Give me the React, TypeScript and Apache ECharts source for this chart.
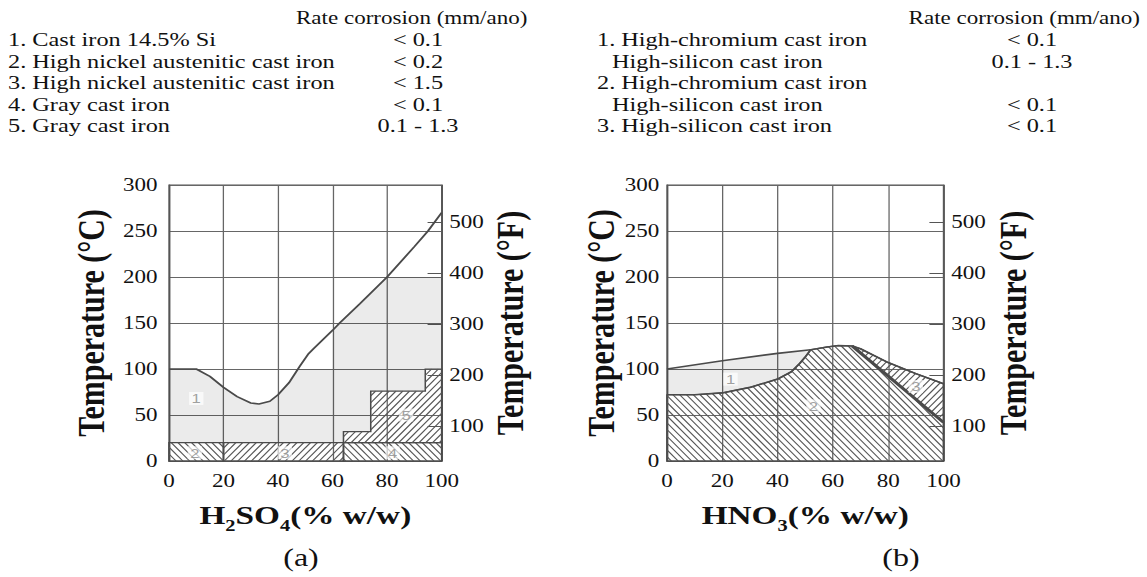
import { useEffect, useRef } from "react";
import * as echarts from "echarts";

// ---------- data ----------
const fahrenheitTicks = [100, 200, 300, 400, 500];

const rateHeader = "Rate corrosion (mm/ano)";
const alloysA = [
  "1. Cast iron 14.5% Si",
  "2. High nickel austenitic cast iron",
  "3. High nickel austenitic cast iron",
  "4. Gray cast iron",
  "5. Gray cast iron",
];
const ratesA = ["< 0.1", "< 0.2", "< 1.5", "< 0.1", "0.1 - 1.3"];
const alloysB = [
  "1. High-chromium cast iron",
  "High-silicon cast iron",
  "2. High-chromium cast iron",
  "High-silicon cast iron",
  "3. High-silicon cast iron",
];
const ratesB = ["< 0.1", "0.1 - 1.3", "", "< 0.1", "< 0.1"];

// (a) H2SO4 — boundary curve (x = % w/w, y = °C)
const aCurve = [
  [0, 100], [10, 100], [15, 92], [20, 80], [25, 70], [30, 63], [33, 62], [37, 65],
  [40, 72], [44, 85], [48, 103], [51, 116], [53, 122], [60, 142], [62.6, 150],
  [70, 171], [80, 200], [90, 233], [95, 250], [100, 270],
];
const aRegion1 = [
  [0, 20], [0, 100], [10, 100], [15, 92], [20, 80], [25, 70], [30, 63], [33, 62],
  [37, 65], [40, 72], [44, 85], [47.5, 100], [60, 100], [60, 142], [62.6, 150],
  [70, 171], [80, 200], [100, 200], [100, 100], [94, 100], [94, 76], [74, 76],
  [74, 32], [64, 32], [64, 20],
];
const aRegion2 = [[0, 0], [0, 20], [20, 20], [20, 0]];
const aRegion3 = [[20, 0], [20, 20], [64, 20], [64, 0]];
const aRegion4 = [[64, 0], [64, 20], [100, 20], [100, 0]];
const aRegion5 = [[64, 20], [64, 32], [74, 32], [74, 76], [94, 76], [94, 100], [100, 100], [100, 20]];
const aLabels = [[10, 68, "1"], [9.5, 9, "2"], [42.5, 9, "3"], [82, 9, "4"], [87, 50, "5"]];

// (b) HNO3
const bRegion1Top = [[0, 100], [20, 109], [40, 117], [52, 121]];
const bRegion1Bottom = [[0, 72], [10, 72], [20, 74], [30, 80], [40, 89], [45, 97], [48, 106], [50, 113], [52, 121]];
const bPeak = [[52, 121], [58, 124], [62, 125.5], [67, 125]];
const bRegion3Top = [[67, 125], [70, 122], [80, 107], [90, 95], [100, 84]];
const bRegion3Bottom = [[67, 125], [100, 42]];
const bLabels = [[23, 89, "1"], [53, 60, "2"], [90, 81, "3"]];

// ---------- layout ----------
const PAGE_W = 1147;
const PAGE_H = 577;
const W = 896;
const S = PAGE_W / W; // horizontal stretch of the whole figure
const serif = "'Liberation Serif', 'Times New Roman', serif";

const bRegion1 = [...bRegion1Bottom, ...bRegion1Top.slice(0, -1).reverse()];
const bRegion2 = [[0, 0], ...bRegion1Bottom, ...bPeak.slice(1), ...bRegion3Bottom.slice(1), [100, 0]];
const bRegion3 = [...bRegion3Top, ...bRegion3Bottom.slice(1).reverse()];

type Region = { pts: number[][]; fill?: string; hatch: number };
const regionsA: Region[] = [
  { pts: aRegion1, fill: "rgba(0,0,0,0.08)", hatch: 0 },
  { pts: aRegion2, hatch: 1 },
  { pts: aRegion3, hatch: -1 },
  { pts: aRegion4, hatch: 1 },
  { pts: aRegion5, hatch: -1 },
];
const regionsB: Region[] = [
  { pts: bRegion1, fill: "rgba(0,0,0,0.08)", hatch: 0 },
  { pts: bRegion2, hatch: 1 },
  { pts: bRegion3, hatch: -1 },
];

function hatchSegments(pts: number[][], dir: number, gap: number) {
  const nx = S, ny = -dir;
  const ux = 1, uy = dir * S;
  const vals = pts.map((p) => nx * p[0] + ny * p[1]);
  const cmin = Math.min(...vals), cmax = Math.max(...vals);
  const step = S * gap;
  const segs: number[][][] = [];
  for (let c = Math.ceil(cmin / step) * step; c <= cmax; c += step) {
    const hits: number[][] = [];
    for (let i = 0; i < pts.length; i++) {
      const a = pts[i], b = pts[(i + 1) % pts.length];
      const fa = nx * a[0] + ny * a[1] - c;
      const fb = nx * b[0] + ny * b[1] - c;
      if (fa > 0 !== fb > 0) {
        const t = fa / (fa - fb);
        hits.push([a[0] + t * (b[0] - a[0]), a[1] + t * (b[1] - a[1])]);
      }
    }
    hits.sort((p, q) => p[0] * ux + p[1] * uy - (q[0] * ux + q[1] * uy));
    for (let k = 0; k + 1 < hits.length; k += 2) segs.push([hits[k], hits[k + 1]]);
  }
  return segs;
}

function regionSeries(regions: Region[], xi: number, yi: number) {
  return {
    type: "custom",
    xAxisIndex: xi,
    yAxisIndex: yi,
    silent: true,
    z: 1,
    data: regions.map((r) => r.pts[0]),
    renderItem: (params: any, api: any) => {
      const r = regions[params.dataIndex];
      const px = r.pts.map((p) => api.coord(p));
      const children: any[] = [
        {
          type: "polygon",
          shape: { points: px },
          style: { fill: r.fill || "none", stroke: r.hatch ? "#4a4a4a" : "none", lineWidth: 1.2 },
        },
      ];
      if (r.hatch) {
        for (const [p, q] of hatchSegments(px, r.hatch, 5.3)) {
          children.push({
            type: "line",
            shape: { x1: p[0], y1: p[1], x2: q[0], y2: q[1] },
            style: { stroke: "#555", lineWidth: 1 },
          });
        }
      }
      return { type: "group", children };
    },
  };
}

function lineSeries(data: number[][], xi: number, yi: number, width: number) {
  return {
    type: "line",
    xAxisIndex: xi,
    yAxisIndex: yi,
    data,
    symbol: "none",
    silent: true,
    z: 3,
    lineStyle: { color: "#4a4a4a", width },
  };
}

function labelSeries(data: any[], xi: number, yi: number) {
  return {
    type: "scatter",
    xAxisIndex: xi,
    yAxisIndex: yi,
    data,
    symbolSize: 1,
    silent: true,
    z: 4,
    itemStyle: { color: "transparent" },
    label: {
      show: true,
      position: "inside",
      formatter: (p: any) => p.value[2],
      fontFamily: "'Liberation Sans', sans-serif",
      fontSize: 13,
      color: "#888",
      backgroundColor: "rgba(255,255,255,0.85)",
      padding: [0, 2],
    },
  };
}

const tickFont = { fontFamily: serif, fontSize: 18, color: "#111" };
const titleFont = { fontFamily: serif, fontSize: 30, fontWeight: "bold" as const, color: "#111" };
const gridLine = { show: true, lineStyle: { color: "#666", width: 1 } };
const axisLn = { show: true, lineStyle: { color: "#555", width: 1 } };

function xAxisOf(gi: number, name: string, gap: number) {
  return {
    type: "value",
    gridIndex: gi,
    min: 0,
    max: 100,
    interval: 20,
    axisLine: axisLn,
    axisTick: { show: false },
    axisLabel: { ...tickFont, margin: 11 },
    splitLine: gridLine,
    name,
    nameLocation: "middle",
    nameGap: gap,
    nameTextStyle: {
      rich: {
        m: { fontFamily: serif, fontSize: 26, fontWeight: "bold", color: "#111", verticalAlign: "top" },
        s: { fontFamily: serif, fontSize: 16, fontWeight: "bold", color: "#111", verticalAlign: "bottom", lineHeight: 32 },
      },
    },
  };
}

function yAxesOf(gi: number, gapC: number, gapF: number, labelMargin: number) {
  return [
    {
      type: "value",
      gridIndex: gi,
      position: "left",
      min: 0,
      max: 300,
      interval: 50,
      axisLine: axisLn,
      axisTick: { show: false },
      axisLabel: { ...tickFont, margin: labelMargin },
      splitLine: gridLine,
      name: "Temperature (°C)",
      nameLocation: "middle",
      nameGap: gapC,
      nameTextStyle: titleFont,
    },
    {
      type: "value",
      gridIndex: gi,
      position: "right",
      min: 32,
      max: 572,
      axisLine: axisLn,
      axisTick: { show: true, inside: true, length: 11, customValues: fahrenheitTicks, lineStyle: { color: "#555" } },
      axisLabel: { ...tickFont, margin: 6, customValues: fahrenheitTicks },
      splitLine: { show: false },
      name: "Temperature (°F)",
      nameLocation: "middle",
      nameGap: gapF,
      nameTextStyle: titleFont,
    },
  ];
}

const rowY = [40, 62, 83, 105, 126];

function headerText(text: string, x: number, y: number, align: string, size = 19) {
  return {
    type: "text",
    x,
    y,
    silent: true,
    style: {
      text,
      fontFamily: serif,
      fontSize: size,
      fill: "#111",
      align,
      verticalAlign: "middle",
      textAlign: align,
      textVerticalAlign: "middle",
    },
  };
}

function buildGraphics() {
  const g: any[] = [];
  g.push(headerText(rateHeader, 296 / S, 18, "left", 18));
  g.push(headerText(rateHeader, 1140 / S, 18, "right", 18));
  alloysA.forEach((t, i) => {
    g.push(headerText(t, 8 / S, rowY[i], "left"));
    g.push(headerText(ratesA[i], 418 / S, rowY[i], "center"));
  });
  alloysB.forEach((t, i) => {
    const indent = /^\d/.test(t) ? 597 : 612;
    g.push(headerText(t, indent / S, rowY[i], "left"));
    if (ratesB[i]) g.push(headerText(ratesB[i], 1032 / S, rowY[i], "center"));
  });
  for (const [t, x] of [["(a)", 301], ["(b)", 901]] as [string, number][]) {
    g.push({
      type: "text",
      x: x / S,
      y: 557,
      silent: true,
      style: {
        text: t,
        fontFamily: serif,
        fontSize: 25,
        fill: "#111",
        align: "center",
        verticalAlign: "middle",
        textAlign: "center",
        textVerticalAlign: "middle",
      },
    });
  }
  return g;
}

export default function App() {
  const ref = useRef<HTMLDivElement>(null);
  useEffect(() => {
    if (!ref.current) return;
    const chart = echarts.init(ref.current, undefined, { renderer: "svg" });
    chart.setOption({
      animation: false,
      backgroundColor: "#fff",
      grid: [
        { left: 132, top: 185, width: 213, height: 276, show: true, borderColor: "#555", borderWidth: 1, outerBoundsMode: "none" },
        { left: 521, top: 185, width: 216, height: 276, show: true, borderColor: "#555", borderWidth: 1, outerBoundsMode: "none" },
      ],
      xAxis: [
        xAxisOf(0, "{m|H}{s|2}{m|SO}{s|4}{m|(% w/w)}", 41),
        xAxisOf(1, "{m|HNO}{s|3}{m|(% w/w)}", 41),
      ],
      yAxis: [...yAxesOf(0, 46, 38, 9), ...yAxesOf(1, 36, 39, 6)],
      series: [
        regionSeries(regionsA, 0, 0),
        lineSeries(aCurve, 0, 0, 1.6),
        labelSeries(aLabels, 0, 0),
        regionSeries(regionsB, 1, 2),
        lineSeries(bRegion1Top, 1, 2, 1.6),
        lineSeries(bRegion1Bottom, 1, 2, 1.6),
        lineSeries(bPeak, 1, 2, 1.6),
        lineSeries(bRegion3Top, 1, 2, 1.6),
        lineSeries(bRegion3Bottom, 1, 2, 2.8),
        labelSeries(bLabels, 1, 2),
      ],
      graphic: buildGraphics(),
    });
    return () => chart.dispose();
  }, []);
  return (
    <div style={{ position: "absolute", left: 0, top: 0, width: PAGE_W, height: PAGE_H, overflow: "hidden", background: "#fff" }}>
      <div ref={ref} style={{ width: W, height: PAGE_H, transform: `scaleX(${S})`, transformOrigin: "0 0" }} />
    </div>
  );
}
